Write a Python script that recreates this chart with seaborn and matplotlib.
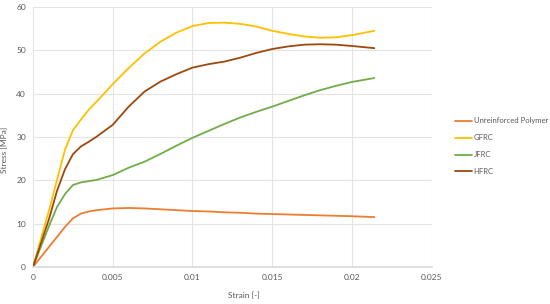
import matplotlib
matplotlib.use("Agg")
import matplotlib.pyplot as plt
from matplotlib.ticker import FuncFormatter, MultipleLocator
import seaborn as sns
import pandas as pd

# values
strain = [0, 0.001, 0.0015, 0.002, 0.0025, 0.003, 0.0035, 0.004, 0.005, 0.006,
          0.007, 0.008, 0.009, 0.010, 0.011, 0.012, 0.013, 0.014, 0.015,
          0.016, 0.017, 0.018, 0.019, 0.020, 0.0214]

unreinforced = [0, 4.6, 6.9, 9.2, 11.2, 12.3, 12.8, 13.1, 13.5, 13.6,
                13.5, 13.3, 13.1, 12.9, 12.8, 12.6, 12.5, 12.3, 12.2,
                12.1, 12.0, 11.9, 11.8, 11.7, 11.5]
gfrc = [0, 13, 20, 27, 31.5, 34, 36.3, 38.2, 42.2, 45.9,
        49.3, 52.0, 54.1, 55.6, 56.3, 56.4, 56.1, 55.5, 54.5,
        53.8, 53.2, 52.9, 53.0, 53.5, 54.5]
jfrc = [0, 9.4, 13.8, 16.8, 18.9, 19.5, 19.8, 20.1, 21.2, 22.9,
        24.3, 26.1, 28.0, 29.8, 31.4, 33.0, 34.5, 35.8, 37.0,
        38.3, 39.6, 40.8, 41.8, 42.7, 43.6]
hfrc = [0, 11, 17.5, 22.5, 26, 27.8, 28.9, 30.1, 32.8, 37.0,
        40.5, 42.8, 44.5, 46.0, 46.8, 47.4, 48.3, 49.4, 50.3,
        50.9, 51.3, 51.4, 51.3, 51.0, 50.5]

series = ['Unreinforced Polymer', 'GFRC', 'JFRC', 'HFRC']
colors = ['#ED7D31', '#FFC000', '#70AD47', '#9E480E']

frames = []
for name, vals in zip(series, [unreinforced, gfrc, jfrc, hfrc]):
    frames.append(pd.DataFrame({'Strain': strain, 'Stress': vals, 'Material': name}))
df = pd.concat(frames, ignore_index=True)

sns.set_style('white')
plt.rcParams['font.family'] = ['Lato', 'DejaVu Sans']

fig = plt.figure(figsize=(5.5, 3.04), dpi=100)
ax = fig.add_axes([0.06, 0.122, 0.725, 0.855])

sns.lineplot(data=df, x='Strain', y='Stress', hue='Material', hue_order=series,
             palette=colors, linewidth=1.3, sort=False, ax=ax, legend=True)

ax.set_xlim(0, 0.025)
ax.set_ylim(0, 60)
ax.xaxis.set_major_locator(MultipleLocator(0.005))
ax.yaxis.set_major_locator(MultipleLocator(10))
ax.xaxis.set_major_formatter(FuncFormatter(lambda v, p: '%g' % round(v, 4)))
ax.grid(True, color='#e4e4e4', linewidth=0.8)
ax.set_axisbelow(True)
for s in ['top', 'right', 'left']:
    ax.spines[s].set_visible(False)
ax.spines['bottom'].set_color('#d9d9d9')
ax.spines['bottom'].set_linewidth(1.2)
ax.tick_params(axis='both', length=0, labelsize=6, labelcolor='#595959', pad=5)

ax.set_xlabel('Strain [-]', fontsize=6, color='#595959')
ax.xaxis.set_label_coords(0.53, -0.095)
ax.set_ylabel('Stress [MPa]', fontsize=6, color='#595959')
ax.yaxis.set_label_coords(-0.063, 0.45)

handles, labels = ax.get_legend_handles_labels()
ax.legend_.remove()
fig.legend(handles, labels, loc='upper left', bbox_to_anchor=(0.827, 0.614),
           frameon=False, fontsize=5.5, labelcolor='#595959', handlelength=2.2,
           handletextpad=0.25, labelspacing=1.3, borderaxespad=0, borderpad=0)

plt.savefig('out.png', dpi=100)
